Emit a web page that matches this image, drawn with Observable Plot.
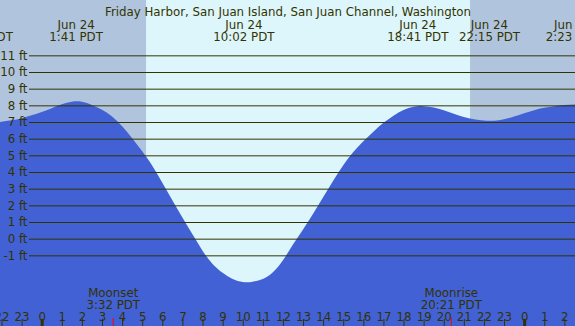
<!DOCTYPE html>
<html>
<head>
<meta charset="utf-8">
<script src="https://cdn.jsdelivr.net/npm/d3@7"></script>
<script src="https://cdn.jsdelivr.net/npm/@observablehq/plot@0.6"></script>
<style>
  html, body { margin: 0; padding: 0; background: #ddf6fc; overflow: hidden; }
  svg { display: block; }
</style>
</head>
<body>
<div id="chart"></div>
<script>
// ---- data (hours relative to Jun 24 00:00 PDT) ----
const title = "Friday Harbor, San Juan Island, San Juan Channel, Washington";

const tideHours = [-2.1, -1.5, -1.0, -0.5, 0.0, 0.5, 1.0, 1.5, 2.0, 2.5, 3.0, 3.5, 4.0, 4.5, 5.0, 5.5,
  6.0, 6.5, 7.0, 7.5, 8.0, 8.5, 9.0, 9.5, 10.0, 10.5, 11.0, 11.5, 12.0, 12.5, 13.0, 13.5, 14.0, 14.5,
  15.0, 15.5, 16.0, 16.5, 17.0, 17.5, 18.0, 18.5, 19.0, 19.5, 20.0, 20.5, 21.0, 21.5, 22.0, 22.5,
  23.0, 23.5, 24.0, 24.5, 25.0, 25.5, 26.0, 26.6];
const tideFeet = [7.00, 7.10, 7.23, 7.40, 7.60, 7.83, 8.06, 8.22, 8.21, 8.02, 7.74, 7.33, 6.74, 6.02, 5.24, 4.38,
  3.36, 2.30, 1.27, 0.26, -0.72, -1.52, -2.05, -2.42, -2.60, -2.58, -2.42, -2.02, -1.30, -0.35, 0.55, 1.50, 2.48, 3.48,
  4.40, 5.20, 5.85, 6.42, 6.95, 7.38, 7.72, 7.92, 7.95, 7.87, 7.70, 7.50, 7.30, 7.16, 7.09, 7.08,
  7.17, 7.33, 7.53, 7.71, 7.85, 7.95, 8.02, 8.06];

const gridFeet = [-1, 0, 1, 2, 3, 4, 5, 6, 7, 8, 9, 10, 11];

const extremeHours = [-2.98, 1.683, 10.033, 18.683, 22.25, 26.383];
const extremeDates = ["Jun 23", "Jun 24", "Jun 24", "Jun 24", "Jun 24", "Jun 25"];
const extremeTimes = ["21:01 PDT", "1:41 PDT", "10:02 PDT", "18:41 PDT", "22:15 PDT", "2:23 PDT"];

const sunriseHour = 5.19;
const sunsetHour = 21.31;

const moonHours = [3.533, 20.35];
const moonNames = ["Moonset", "Moonrise"];
const moonTimes = ["3:32 PDT", "20:21 PDT"];

const hourTicks = [-2, -1, 0, 1, 2, 3, 4, 5, 6, 7, 8, 9, 10, 11, 12, 13, 14, 15, 16, 17, 18, 19, 20, 21, 22, 23, 24, 25, 26];
const hourLabels = ["22", "23", "0", "1", "2", "3", "4", "5", "6", "7", "8", "9", "10", "11", "12", "13", "14", "15", "16", "17", "18", "19", "20", "21", "22", "23", "0", "1", "2"];
const midnightHours = [0, 24];

// ---- layout ----
const X0 = -2.075, X1 = 26.53;
const Y0 = -5.24, Y1 = 14.32;
const ink = "#333300";
const night = "#b0c4de";
const day = "#ddf6fc";
const water = "#4161d5";

const tide = tideHours.map((h, i) => ({h, ft: tideFeet[i]}));
const nights = [{s: X0 - 1, e: sunriseHour}, {s: sunsetHour, e: X1 + 1}];
const extremes = extremeHours.map((h, i) => ({h, date: extremeDates[i], time: extremeTimes[i]}));
const moons = moonHours.map((h, i) => ({h, name: moonNames[i], time: moonTimes[i]}));
const hours = hourTicks.map((h, i) => ({h, label: hourLabels[i]}));

const chart = Plot.plot({
  width: 575,
  height: 326,
  margin: 0,
  x: {domain: [X0, X1], axis: null},
  y: {domain: [Y0, Y1], axis: null},
  style: {background: day, fontFamily: "DejaVu Sans", fontSize: "11.8px", color: ink},
  marks: [
    Plot.rect(nights, {x1: "s", x2: "e", fill: night}),
    Plot.areaY(tide, {x: "h", y1: () => Y0, y2: "ft", curve: "natural", fill: water}),
    Plot.ruleY(gridFeet, {stroke: ink, strokeWidth: 1, insetLeft: 29}),
    Plot.text(gridFeet, {frameAnchor: "left", y: d => d, dx: 27, text: d => `${d} ft`, textAnchor: "end", fill: ink}),
    Plot.text([title], {frameAnchor: "top", dy: 7.3, text: d => d, fill: ink}),
    Plot.text(extremes.filter(d => d.h > X0), {x: "h", frameAnchor: "top", dy: 20.2, text: "date", fill: ink}),
    Plot.text(extremes, {x: "h", frameAnchor: "top", dy: 32.2, text: "time", fill: ink}),
    Plot.text(moons, {x: "h", frameAnchor: "top", dy: 288.4, text: "name", fill: ink}),
    Plot.text(moons, {x: "h", frameAnchor: "top", dy: 299.8, text: "time", fill: ink}),
    Plot.text(hours, {x: "h", frameAnchor: "top", dy: 312.2, text: "label", fill: ink}),
    Plot.ruleX(hourTicks, {x: d => d, insetTop: 319, stroke: ink, strokeWidth: 1}),
    Plot.ruleX(midnightHours, {x: d => d, insetTop: 319, stroke: ink, strokeWidth: 3}),
    Plot.ruleX(moonHours, {x: d => d, insetTop: 318, stroke: "#ff0000", strokeWidth: 1})
  ]
});
document.getElementById("chart").appendChild(chart);
</script>
</body>
</html>
